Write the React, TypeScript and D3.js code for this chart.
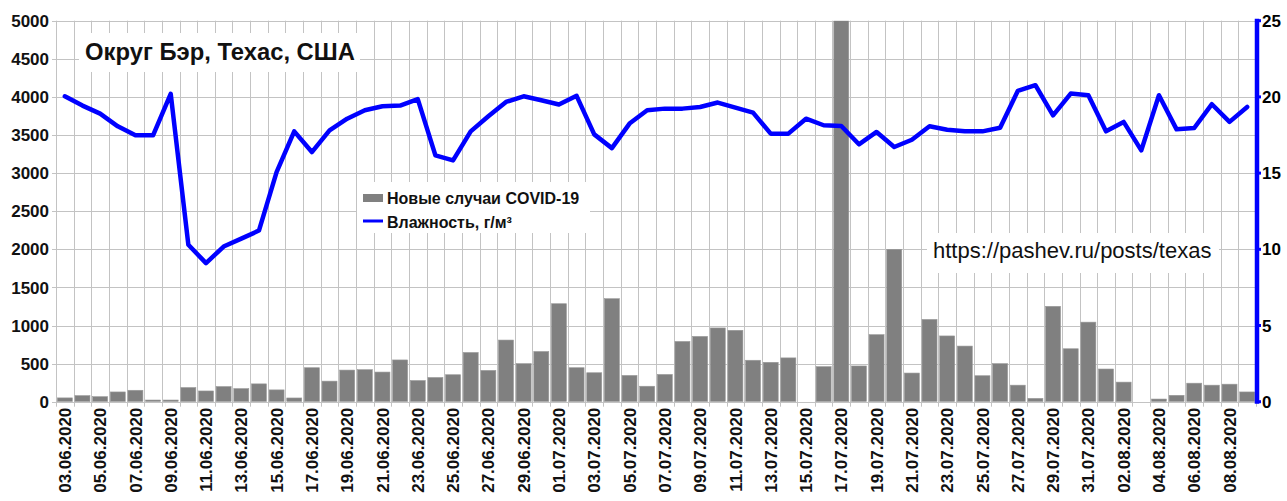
import React from "react";
import * as d3 from "d3";

const dates: string[] = [];
{
  const start = new Date(2020, 5, 3);
  for (let i = 0; i < 68; i++) {
    const d = new Date(start.getFullYear(), start.getMonth(), start.getDate() + i);
    dates.push(d3.timeFormat("%d.%m.%Y")(d));
  }
}

const cases = [
  50, 80, 66, 128, 150, 22, 22, 186, 141, 199, 172, 234, 155, 49, 446, 270, 415, 420, 389, 548,
  278, 318, 354, 646, 411, 809, 500, 659, 1286, 446, 380, 1352, 345, 203, 358, 791, 857, 968, 937, 544,
  517, 575, 0, 460, 5000, 469, 880, 2000, 376, 1080, 863, 730, 341, 500, 217, 44, 1252, 695, 1044, 429,
  257, 0, 35, 84, 243, 217, 230, 128,
];

const humidity = [
  20.04, 19.43, 18.9, 18.07, 17.48, 17.48, 20.2, 10.3, 9.09, 10.18, 10.7, 11.23, 15.07, 17.74, 16.38, 17.8, 18.57, 19.12, 19.39, 19.43,
  19.85, 16.16, 15.83, 17.74, 18.73, 19.67, 20.04, 19.78, 19.5, 20.07, 17.54, 16.64, 18.25, 19.12, 19.23, 19.23, 19.34, 19.63, 19.3, 18.97,
  17.59, 17.59, 18.57, 18.14, 18.09, 16.89, 17.7, 16.71, 17.19, 18.07, 17.85, 17.74, 17.74, 17.98, 20.39, 20.77, 18.79, 20.22, 20.11, 17.74,
  18.36, 16.49, 20.11, 17.87, 17.96, 19.52, 18.36, 19.34,
];

const leftTicks = [0, 500, 1000, 1500, 2000, 2500, 3000, 3500, 4000, 4500, 5000];
const rightTicks = [0, 5, 10, 15, 20, 25];

const title = "Округ Бэр, Техас, США";
const legendCases = "Новые случаи COVID-19";
const legendHum = "Влажность, г/м³";
const url = "https://pashev.ru/posts/texas";

const W = 1287;
const H = 501;
const L = 56;
const R = 1256;
const T = 20.7;
const B = 401.7;
const FONT = "'Liberation Sans', Arial, sans-serif";

export default function App() {
  const x = d3.scaleBand<string>().domain(dates).range([L, R]).paddingInner(0.15).paddingOuter(0.075);
  const xs = d3.scaleBand<string>().domain(dates).range([L, R]);
  const y = d3.scaleLinear().domain([0, 5000]).range([B, T]);
  const y2 = d3.scaleLinear().domain([0, 25]).range([B, T]);
  const step = xs.step();

  const line = d3
    .line<number>()
    .x((_, i) => (xs(dates[i]) as number) + step / 2)
    .y((d) => y2(d));

  return (
    <svg width={W} height={H} style={{ position: "absolute", left: 0, top: 0, background: "#fff" }} fontFamily={FONT}>
      <defs>
        <clipPath id="plot">
          <rect x={L} y={T} width={R - L} height={B - T} />
        </clipPath>
      </defs>
      {/* grid */}
      <g stroke="#c3c3c3" strokeWidth={1}>
        {leftTicks.map((t) => (
          <line key={"h" + t} x1={L - 4} x2={R} y1={Math.round(y(t)) + 0.5} y2={Math.round(y(t)) + 0.5} />
        ))}
        {d3.range(dates.length + 1).map((i) => {
          const xx = Math.round(L + i * step) + 0.5;
          return <line key={"v" + i} x1={xx} x2={xx} y1={T} y2={B + 5} />;
        })}
      </g>
      {/* bars */}
      <g clipPath="url(#plot)">
        {cases.map((v, i) => (
          <rect
            key={"b" + i}
            x={x(dates[i])}
            width={x.bandwidth()}
            y={y(v)}
            height={B - y(v)}
            fill="#808080"
            stroke="#9a9a9a"
            strokeWidth={0.6}
          />
        ))}
      </g>
      {/* line */}
      <path d={line(humidity) || ""} fill="none" stroke="#0000ff" strokeWidth={4.5} strokeLinejoin="round" strokeLinecap="round" />
      {/* right axis */}
      <line x1={R + 1} x2={R + 1} y1={T - 2} y2={B + 2} stroke="#0000ff" strokeWidth={4.5} />
      {rightTicks.map((t) => (
        <g key={"r" + t}>
          <line x1={R + 1} x2={R + 5} y1={y2(t)} y2={y2(t)} stroke="#0000ff" strokeWidth={3} />
          <text x={R + 6} y={y2(t)} dy="0.36em" fontSize={17} fontWeight="bold" fill="#000">
            {t}
          </text>
        </g>
      ))}
      {/* left axis labels */}
      {leftTicks.map((t) => (
        <text key={"l" + t} x={49} y={y(t)} dy="0.36em" textAnchor="end" fontSize={17} fontWeight="bold" fill="#111">
          {t}
        </text>
      ))}
      {/* x labels */}
      {dates.map((d, i) =>
        i % 2 === 0 ? (
          <text
            key={"x" + i}
            transform={`translate(${(xs(d) as number) + step / 2},${B + 6}) rotate(-90)`}
            textAnchor="end"
            dy="0.36em"
            fontSize={17}
            fontWeight="bold"
            fill="#111"
          >
            {d}
          </text>
        ) : null
      )}
      {/* title */}
      <rect x={79} y={33} width={281} height={39} fill="#fff" />
      <text x={85} y={60} fontSize={23.8} fontWeight="bold" fill="#111">
        {title}
      </text>
      {/* legend */}
      <rect x={357} y={182} width={233} height={51} fill="#fff" />
      <rect x={363} y={194} width={20} height={8} fill="#808080" />
      <text x={387} y={203.5} fontSize={16} fontWeight="bold" fill="#111">
        {legendCases}
      </text>
      <line x1={363} x2={383} y1={221} y2={221} stroke="#0000ff" strokeWidth={3} />
      <text x={387} y={227.5} fontSize={16} fontWeight="bold" fill="#111">
        {legendHum}
      </text>
      {/* url */}
      <rect x={927} y={233} width={292} height={40} fill="#fff" />
      <text x={933} y={257.5} fontSize={22} fill="#111">
        {url}
      </text>
    </svg>
  );
}
